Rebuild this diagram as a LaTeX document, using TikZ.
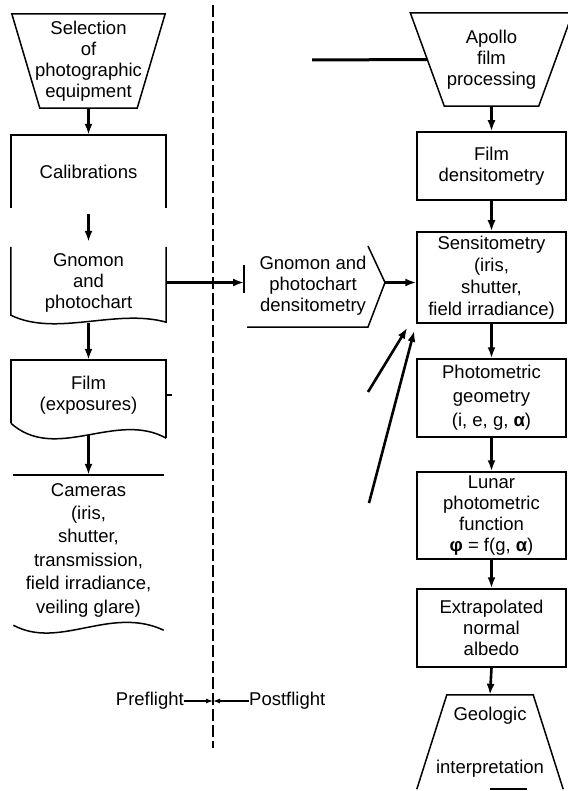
\documentclass[tikz,border=0pt]{standalone}
\usepackage{fontspec}
\setmainfont{Liberation Sans}
\usetikzlibrary{arrows.meta}
\tikzset{
  lbl/.style={inner sep=0pt,align=center},
  rbox/.style={draw,line width=1.5pt,inner sep=0pt,align=center,minimum width=149pt},
  frame/.style={line width=1.5pt},
  arr/.style={line width=2.6pt,-{Latex[length=11pt,width=8pt]}},
  sarr/.style={line width=1.1pt,-{Latex[length=7pt,width=5pt]}},
  feedln/.style={line width=3pt},
  divide/.style={line width=1.1pt,dash pattern=on 12pt off 4pt},
}

\begin{document}
\begin{tikzpicture}[x=1pt,y=1pt,font=\fontsize{18.5}{21}\selectfont]
  \useasboundingbox (0,0) rectangle (567,-791);
  % preflight side
  \node[lbl,minimum width=153pt,minimum height=94pt] (sel) at (88.5,-61) {Selection\\of\\photographic\\equipment};
  \draw[frame] (sel.north west) -- (sel.north east) -- ([xshift=-28pt]sel.south east) -- ([xshift=28pt]sel.south west) -- cycle;
  \node[lbl,minimum width=155pt,minimum height=73pt] (cal) at (88.5,-171.5) {Calibrations};
  \draw[frame] (cal.south west) |- (cal.north east) -- (cal.south east);
  \node[lbl,minimum width=155pt,minimum height=71pt] (gno) at (88.5,-282.5) {Gnomon\\and\\photochart};
  \draw[frame] (gno.north west) -- ([yshift=3pt]gno.south west) .. controls +(45,-22) and +(-50,14) .. ([yshift=-4pt]gno.south east) -- (gno.north east);
  \node[lbl,minimum width=155pt,minimum height=70pt] (film) at (88.5,-395) {Film\\(exposures)};
  \draw[frame] ([yshift=7pt]film.south west) |- (film.north east) -- ([yshift=-8pt]film.south east);
  \draw[frame] ([yshift=7pt]film.south west) .. controls +(45,-40) and +(-50,28) .. ([yshift=-8pt]film.south east);
  \draw[frame] (film.east) -- ++(6,0);
  \node[lbl,minimum width=150pt,minimum height=150pt,font=\fontsize{18.5}{23.4}\selectfont] (cam) at (88.5,-550)
    {Cameras\\(iris,\\shutter,\\transmission,\\field irradiance,\\veiling glare)};
  \draw[frame] (cam.north west) -- (cam.north east);
  \draw[frame] (cam.south west) .. controls +(46.5,-25) and +(-53.5,25) .. ([yshift=-5pt]cam.south east);
  \draw[arr] (sel.south) -- (cal.north);
  \draw[arr] ([yshift=-6pt]cal.south) -- ([yshift=5pt]gno.north);
  \draw[arr] ([yshift=-5pt]gno.south) -- (film.north);
  \draw[arr] ([yshift=-5pt]film.south) -- (cam.north);

  % postflight side
  \node[lbl,minimum width=162pt,minimum height=93pt] (apo) at (491.5,-59.5) {Apollo\\film\\processing};
  \draw[frame] (apo.north west) -- (apo.north east) -- ([xshift=-34pt]apo.south east) -- ([xshift=34pt]apo.south west) -- cycle;
  \coordinate (feed) at (312,-60);
  \draw[feedln] (feed) -- ([xshift=17pt]apo.west);
  \node[rbox,minimum height=68pt] (fd) at (491.5,-166) {Film\\densitometry};
  \node[rbox,minimum height=91pt,font=\fontsize{18.5}{22}\selectfont] (sen) at (491.5,-277.5) {Sensitometry\\(iris,\\shutter,\\field irradiance)};
  \node[rbox,minimum height=78pt,font=\fontsize{18.5}{24}\selectfont] (pho) at (491.5,-398) {Photometric\\geometry\\(i, e, g, \textbf{α})};
  \node[rbox,minimum height=87pt] (lun) at (491.5,-515.5) {Lunar\\photometric\\function\\\textbf{φ} = f(g, \textbf{α})};
  \node[rbox,minimum height=78pt] (ext) at (491.5,-628) {Extrapolated\\normal\\albedo};
  \node[lbl,minimum width=146pt,minimum height=94pt] (geo) at (490,-742) {Geologic\\[32pt]interpretation};
  \draw[frame] (geo.south west) -- ([xshift=30pt]geo.north west) -- ([xshift=-30pt]geo.north east) -- (geo.south east);
  \draw[frame] (geo.south) -- ++(37,0);
  \foreach \a/\b in {apo/fd, fd/sen, sen/pho, pho/lun, lun/ext, ext/geo}
    \draw[arr] (\a.south) -- (\b.north);

  % densitometry of gnomon
  \node[lbl] (gd) at (313,-286) {Gnomon and\\photochart\\densitometry};
  \coordinate (gdl) at (244,-282.5);
  \coordinate (gdt) at (385,-282.5);
  \draw[frame] ([yshift=17.5pt]gdl) -- ([yshift=-10.5pt]gdl);
  \draw[frame] (247,-327) -- (368,-327) -- (gdt) -- (368,-246);
  \draw[arr] (gno.east) -- (gdl);
  \draw[arr] (gdt) -- (gdt -| sen.west);
  \coordinate (d1) at (368,-392);
  \coordinate (d2) at (369,-503);
  \draw[arr] (d1) -- ([shift={(-9pt,-4pt)}]sen.south west);
  \draw[arr] (d2) -- ([shift={(-2pt,-7pt)}]sen.south west);

  % pre/post divider
  \coordinate (dtop) at (213,-5);
  \coordinate (dbot) at (213,-748);
  \draw[divide] (dtop) -- (dbot);
  \node[lbl,anchor=east] (pre) at (184,-701) {Preflight};
  \node[lbl,anchor=west] (post) at (249,-701) {Postflight};
  \draw[sarr] (pre) -- (pre -| dtop);
  \draw[sarr] (post) -- (post -| dtop);
\end{tikzpicture}
\end{document}
